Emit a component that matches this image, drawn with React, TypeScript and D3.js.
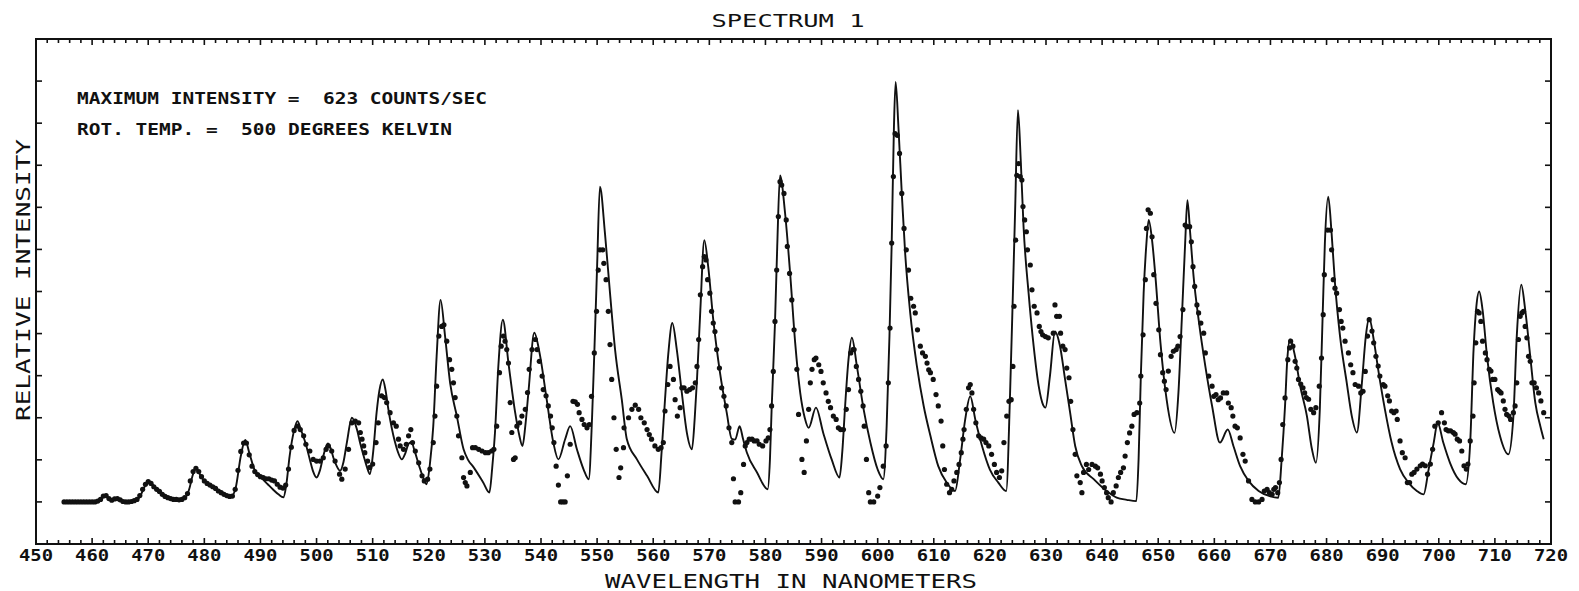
import React from "react";
import * as d3 from "d3";

const W = 1579;
const H = 591;

// axis domains
const xDomain: [number, number] = [450, 720];
const yDomain: [number, number] = [-1, 11];
const xTickLabels = [450, 460, 470, 480, 490, 500, 510, 520, 530, 540, 550, 560, 570, 580, 590, 600, 610, 620, 630, 640, 650, 660, 670, 680, 690, 700, 710, 720];
const yTickValues = [0, 1, 2, 3, 4, 5, 6, 7, 8, 9, 10];

const titleText = "SPECTRUM 1";
const xAxisTitle = "WAVELENGTH IN NANOMETERS";
const yAxisTitle = "RELATIVE INTENSITY";
const noteLines = ["MAXIMUM INTENSITY =  623 COUNTS/SEC", "ROT. TEMP. =  500 DEGREES KELVIN"];

// theoretical (computed) spectrum: [wavelength nm, relative intensity 0..10]
const theoryCurve: [number, number][] = [
  [455, 0], [461, 0], [462.3, 0.16], [463.4, 0.03], [464.6, 0.08], [465.7, 0], [467.2, 0], [468.5, 0.12], [469.3, 0.35], [470.2, 0.48],
  [471, 0.38], [472, 0.26], [473, 0.16], [473.8, 0.1], [475.5, 0.05], [476.5, 0.08], [477.3, 0.3], [477.9, 0.62], [478.5, 0.8], [479.1, 0.68],
  [479.7, 0.54], [480.5, 0.45], [481.5, 0.37], [482.5, 0.28], [483.3, 0.22], [484.8, 0.13], [485.6, 0.34], [486.5, 1.09], [487.3, 1.47], [488, 1.17],
  [488.9, 0.78], [490.4, 0.54], [491.3, 0.42], [492.2, 0.3], [493.2, 0.18], [494.1, 0.11], [494.6, 0.4], [495.2, 1.09], [496, 1.7], [496.6, 1.92],
  [497.2, 1.72], [498, 1.41], [498.8, 1.01], [499.4, 0.72], [500, 0.58], [500.6, 0.75], [501.2, 1.09], [502, 1.39], [502.5, 1.28], [503, 1.05],
  [503.6, 0.85], [504.2, 0.74], [504.8, 0.95], [505.4, 1.41], [506.3, 2.0], [507.2, 1.72], [507.8, 1.38], [508.4, 1.09], [509, 0.82], [509.5, 0.66],
  [510.1, 1.2], [510.7, 2.12], [511.2, 2.65], [511.8, 2.91], [512.3, 2.65], [512.8, 2.2], [514, 1.41], [514.6, 1.15], [515.2, 1.01], [515.8, 1.15],
  [516.4, 1.38], [516.9, 1.42], [517.5, 1.2], [518.3, 0.85], [519, 0.58], [519.6, 0.42], [520.2, 0.9], [520.8, 1.8], [521.4, 3.46], [522.1, 4.8],
  [522.9, 3.94], [523.8, 2.83], [525, 2.04], [526.2, 1.25], [527, 1.0], [528, 0.82], [529.7, 0.46], [530.8, 0.22], [531.3, 0.8], [531.8, 1.65],
  [532.4, 3.23], [533.2, 4.33], [534.2, 3.3], [535.4, 2.12], [536.1, 1.6], [536.7, 1.33], [537.2, 1.8], [537.8, 2.67], [538.8, 4.02], [539.8, 3.5],
  [541, 2.45], [542.2, 1.41], [543.1, 1.01], [544.3, 1.49], [545.2, 1.8], [546.4, 1.25], [547.6, 0.77], [548.5, 0.54], [549.1, 2.0], [549.5, 3.54],
  [550, 5.6], [550.5, 7.49], [551.4, 6.38], [552.3, 4.96], [553.2, 3.62], [554.4, 2.43], [555.3, 1.49], [557.1, 1.01], [558.9, 0.62], [560.9, 0.22],
  [561.5, 1.2], [562.1, 2.43], [562.7, 3.54], [563.4, 4.25], [564.2, 3.62], [565.1, 2.59], [566, 1.64], [566.9, 1.25], [567.4, 2.0], [567.8, 2.91],
  [568.4, 4.57], [569.1, 6.22], [569.8, 5.59], [570.7, 4.33], [571.9, 3.07], [573.1, 2.12], [574, 1.5], [574.6, 1.48], [575.4, 1.8], [576, 1.5],
  [576.7, 1.17], [578.5, 0.7], [580.4, 0.3], [580.8, 1.0], [581.1, 2.2], [581.7, 4.25], [582.1, 6.07], [582.6, 7.76], [583.5, 6.86], [584.4, 5.43],
  [585.3, 3.78], [586.2, 2.59], [587, 2.0], [587.7, 1.76], [589, 2.24], [590.3, 1.64], [591.8, 1.01], [593.2, 0.58], [593.7, 1.2], [594.2, 2.28],
  [594.8, 3.38], [595.4, 3.9], [596.3, 3.22], [597.5, 2.2], [598.7, 1.41], [600, 0.77], [601, 0.54], [601.6, 1.8], [602.1, 3.93], [602.5, 6.15],
  [602.9, 8.91], [603.2, 9.98], [603.7, 8.91], [604.3, 7.33], [604.9, 5.91], [605.8, 4.49], [607, 3.22], [608.2, 2.28], [609.4, 1.57], [610.8, 0.85],
  [612.3, 0.46], [613.8, 0.26], [614.7, 1.01], [615.6, 1.96], [616.5, 2.51], [617.4, 1.96], [618.6, 1.33], [620, 0.77], [621.5, 0.46], [622.9, 0.26],
  [623.6, 2.59], [624.1, 4.96], [624.5, 6.94], [625, 9.31], [625.5, 8.12], [626, 6.54], [626.9, 4.96], [627.8, 3.7], [628.7, 2.75], [629.5, 2.3],
  [629.9, 2.24], [630.7, 2.99], [631.6, 4.05], [632.5, 3.7], [633.4, 2.91], [634.3, 2.12], [635.2, 1.33], [636.4, 0.85], [638.5, 0.54], [640.8, 0.26],
  [642.6, 0.1], [644.4, 0.05], [646.1, 0.02], [646.5, 1.01], [646.9, 2.99], [647.4, 4.96], [647.9, 6.15], [648.3, 6.7], [648.9, 6.22], [649.5, 5.36],
  [650.4, 3.78], [651.5, 2.43], [652.9, 1.64], [653.6, 2.59], [654.2, 4.33], [654.8, 6.15], [655.2, 7.17], [655.7, 6.38], [656.3, 5.36], [657.2, 4.33],
  [658.4, 3.22], [659.6, 2.28], [661, 1.41], [662.4, 1.72], [663.4, 1.33], [664.6, 0.85], [666.1, 0.5], [667.9, 0.26], [670, 0.13], [671.4, 0.1],
  [672, 1.01], [672.6, 2.28], [673, 3.38], [673.5, 3.86], [674.4, 3.45], [675.3, 2.75], [676.5, 2.04], [677.4, 1.25], [678.1, 0.93], [678.8, 2.2],
  [679.3, 4.41], [679.7, 6.15], [680.3, 7.25], [680.9, 6.38], [681.5, 5.2], [682.4, 3.94], [683.6, 2.83], [684.5, 2.04], [685.4, 1.65], [686.3, 2.83],
  [687, 3.94], [687.6, 4.37], [688.4, 3.86], [689.2, 3.15], [690.4, 2.2], [691.6, 1.41], [693.1, 0.78], [694.6, 0.46], [696.1, 0.26], [697.3, 0.18],
  [698.2, 0.78], [699.1, 1.41], [699.8, 1.88], [700.8, 1.41], [702, 0.93], [703.5, 0.54], [704.8, 0.42], [705.6, 1.41], [706.2, 3.62], [706.7, 4.65],
  [707.2, 5.0], [707.8, 4.57], [708.6, 3.46], [709.7, 2.36], [710.9, 1.57], [712.4, 1.13], [713.3, 2.04], [713.9, 3.94], [714.7, 5.16], [715.4, 4.57],
  [716.3, 3.46], [717.2, 2.36], [718.1, 1.8], [718.7, 1.49],
];

// measured points, 455-496 nm (dense)
const measuredBlue: [number, number][] = [
  [455, 0], [455.5, 0], [456, 0], [456.5, 0], [457, 0], [457.5, 0], [458, 0], [458.5, 0], [459, 0], [459.5, 0], [460, 0], [460.5, 0],
  [461, 0.02], [461.5, 0.06], [462, 0.14], [462.5, 0.15], [463, 0.08], [463.5, 0.04], [464, 0.07], [464.5, 0.08], [465, 0.05], [465.5, 0.01],
  [466, 0], [466.5, 0], [467, 0.01], [467.5, 0.03], [468, 0.06], [468.5, 0.15], [469, 0.3], [469.5, 0.42], [470, 0.48], [470.5, 0.44],
  [471, 0.36], [471.5, 0.3], [472, 0.25], [472.5, 0.18], [473, 0.13], [473.5, 0.1], [474, 0.08], [474.5, 0.06], [475, 0.06], [475.5, 0.05],
  [476, 0.06], [476.5, 0.1], [477, 0.2], [477.5, 0.5], [478, 0.72], [478.5, 0.8], [479, 0.72], [479.5, 0.6], [480, 0.5], [480.5, 0.44],
  [481, 0.4], [481.5, 0.36], [482, 0.32], [482.5, 0.26], [483, 0.22], [483.5, 0.18], [484, 0.15], [484.5, 0.13], [485, 0.14], [485.5, 0.3],
  [486, 0.75], [486.5, 1.2], [487, 1.4], [487.5, 1.4], [488, 1.12], [488.5, 0.85], [489, 0.72], [489.5, 0.65], [490, 0.6], [490.5, 0.58],
  [491, 0.55], [491.5, 0.55], [492, 0.52], [492.5, 0.5], [493, 0.42], [493.5, 0.35], [494, 0.33], [494.5, 0.4], [495, 0.78], [495.5, 1.3],
  [496, 1.7],
];

// measured points, 496-541 nm
const measuredGreen: [number, number][] = [
  [496.6, 1.8], [497.1, 1.72], [497.7, 1.57], [498.1, 1.37], [498.8, 1.21], [499.4, 1.01], [500, 0.97], [500.6, 0.97], [501.2, 1.05], [501.7, 1.25],
  [502.1, 1.33], [502.7, 1.21], [503.3, 0.97], [504.1, 0.66], [504.5, 0.54], [505.1, 0.78], [505.7, 1.25], [506.3, 1.88], [506.9, 1.92], [507.5, 1.88],
  [507.8, 1.65], [508.1, 1.49], [508.4, 1.33], [508.6, 1.17], [509.1, 0.97], [509.5, 0.82], [510, 0.9], [510.6, 1.41], [511, 1.88], [511.6, 2.52],
  [512.1, 2.48], [512.5, 2.36], [513.1, 2.12], [513.7, 1.88], [514.2, 1.8], [514.6, 1.49], [514.9, 1.33], [515.5, 1.25], [516, 1.37], [516.4, 1.57],
  [516.8, 1.72], [517.1, 1.41], [517.6, 1.21], [518.2, 0.93], [518.8, 0.62], [519.2, 0.5], [519.8, 0.54], [520.2, 0.78], [520.8, 1.41], [521.1, 2.04],
  [521.4, 2.75], [521.8, 3.94], [522.3, 4.17], [522.7, 4.21], [523.2, 3.82], [523.7, 3.38], [524.1, 3.15], [524.4, 2.83], [524.7, 2.48], [525, 2.04],
  [525.3, 1.57], [525.9, 1.05], [526.2, 0.58], [526.5, 0.46], [526.8, 0.38], [527.4, 0.7], [527.8, 1.29], [528.3, 1.29], [528.9, 1.25], [529.5, 1.21],
  [530.1, 1.17], [530.6, 1.17], [531.2, 1.21], [531.6, 1.25], [532.1, 1.8], [532.6, 3.07], [532.9, 3.7], [533.3, 3.94], [533.6, 3.82], [533.9, 3.62],
  [534.2, 3.3], [534.5, 2.36], [534.8, 1.65], [535.1, 1.01], [535.4, 1.05], [535.7, 1.8], [536.2, 1.88], [536.6, 2.04], [537.2, 2.2], [537.6, 2.6],
  [537.9, 3.15], [538.4, 3.62], [539, 3.86], [539.3, 3.62], [539.7, 3.34], [540.2, 2.99], [540.4, 2.67], [540.9, 2.52], [541.3, 2.28],
];

// measured points, 541-586 nm
const measuredTeal: [number, number][] = [
  [541.7, 2.04], [542, 1.76], [542.3, 1.41], [542.7, 0.85], [543.1, 0.4], [543.5, 0], [543.9, 0], [544.3, 0], [544.7, 0.62], [545.2, 1.37],
  [545.7, 2.39], [546.1, 2.38], [546.5, 2.32], [546.8, 2.12], [547.3, 1.96], [547.7, 1.84], [548.2, 1.76], [548.6, 1.84], [549, 2.51], [549.5, 3.54],
  [549.9, 4.53], [550.2, 5.51], [550.5, 5.99], [551, 5.99], [551.2, 5.67], [551.6, 5.28], [552, 4.53], [552.3, 3.74], [552.6, 2.91], [553, 2.0],
  [553.4, 1.25], [553.9, 0.58], [554.2, 0.81], [554.7, 1.29], [554.8, 1.76], [555.6, 2.0], [556.2, 2.2], [556.8, 2.3], [557.4, 2.2], [557.8, 2.0],
  [558.4, 1.88], [558.9, 1.72], [559.3, 1.6], [559.7, 1.49], [560.3, 1.33], [560.9, 1.25], [561.4, 1.29], [561.8, 1.41], [562.1, 2.16], [562.6, 2.79],
  [563, 3.22], [563.6, 2.91], [563.9, 2.43], [564.3, 2.04], [564.8, 2.24], [565.1, 2.71], [565.5, 2.71], [566, 2.63], [566.5, 2.67], [567, 2.71],
  [567.5, 2.83], [567.8, 3.22], [568.1, 3.86], [568.4, 4.92], [568.8, 5.59], [569.1, 5.83], [569.4, 5.75], [569.7, 5.28], [570.1, 4.96], [570.4, 4.53],
  [570.7, 4.25], [571, 4.05], [571.3, 3.62], [571.8, 3.18], [572.2, 2.71], [572.6, 2.51], [573, 2.28], [573.5, 1.76], [574, 1.41], [574.3, 0.55],
  [574.6, 0], [575.2, 0], [575.6, 0.22], [576.1, 0.89], [576.4, 1.33], [576.7, 1.41], [577.1, 1.49], [577.6, 1.49], [578, 1.45], [578.5, 1.45],
  [578.9, 1.37], [579.5, 1.33], [580.1, 1.45], [580.5, 1.52], [580.8, 1.72], [581.1, 2.28], [581.4, 3.1], [581.7, 4.29], [582, 5.51], [582.3, 6.78],
  [582.6, 7.61], [582.9, 7.53], [583.3, 7.33], [583.7, 6.7], [583.9, 6.07], [584.3, 5.43],
];

// measured points, 585-630 nm
const measuredPurple: [number, number][] = [
  [584.7, 4.8], [585.1, 4.09], [585.6, 3.15], [585.9, 2.08], [586.5, 1.01], [586.9, 0.7], [587.3, 1.45], [587.7, 2.2], [588, 2.83], [588.3, 3.15],
  [588.7, 3.38], [589, 3.42], [589.5, 3.26], [589.9, 3.1], [590.3, 2.83], [590.8, 2.59], [591.2, 2.39], [591.6, 2.24], [592.1, 2.04], [592.6, 1.96],
  [593, 1.76], [593.4, 1.72], [593.9, 1.72], [594.4, 2.2], [594.8, 2.67], [595.2, 3.54], [595.6, 3.62], [595.8, 3.62], [596.2, 3.22], [596.6, 2.91],
  [597, 2.63], [597.4, 2.28], [597.6, 1.8], [598, 1.01], [598.4, 0.22], [598.7, 0], [599.3, 0], [600, 0.14], [600.4, 0.34], [601, 0.85],
  [601.5, 1.33], [601.9, 2.83], [602.2, 4.13], [602.5, 6.15], [602.8, 7.73], [603.1, 8.75], [603.5, 8.71], [603.9, 8.28], [604.3, 7.33], [604.7, 6.5],
  [605.1, 5.99], [605.5, 5.51], [605.9, 4.84], [606.4, 4.65], [606.7, 4.49], [607.1, 4.09], [607.6, 3.7], [608, 3.54], [608.5, 3.46], [608.8, 3.3],
  [609.1, 3.14], [609.4, 3.07], [609.9, 2.91], [610.4, 2.55], [610.8, 2.28], [611.3, 1.92], [611.6, 1.33], [611.9, 0.77], [612.3, 0.42], [612.8, 0.22],
  [613.2, 0.3], [613.6, 0.5], [614.1, 0.7], [614.5, 0.89], [614.9, 1.17], [615.2, 1.49], [615.4, 1.72], [615.8, 2.2], [616.2, 2.71], [616.5, 2.79],
  [616.8, 2.59], [617.1, 2.2], [617.5, 1.88], [618, 1.57], [618.4, 1.52], [618.9, 1.49], [619.3, 1.41], [619.8, 1.33], [620.3, 1.13], [620.8, 0.89],
  [621.2, 0.7], [621.7, 0.58], [622.1, 0.74], [622.5, 1.41], [623, 2.04], [623.4, 2.39], [623.8, 2.43], [624.1, 3.22], [624.3, 4.65], [624.6, 6.22],
  [624.8, 7.76], [625.1, 8.04], [625.4, 7.73], [625.7, 7.65], [625.9, 7.02], [626.2, 6.7], [626.5, 6.42], [626.7, 5.99], [627.2, 5.63], [627.5, 5.04],
  [627.9, 4.65], [628.4, 4.49], [628.8, 4.17], [629.1, 4.05], [629.4, 3.97], [629.9, 3.93], [630.4, 3.9],
];

// measured points, 631-675 nm
const measuredOrange: [number, number][] = [
  [631.3, 4.01], [631.6, 4.68], [631.9, 4.41], [632.4, 4.41], [632.6, 4.01], [633, 3.7], [633.4, 3.62], [633.7, 3.18], [634.1, 2.95], [634.4, 2.39],
  [634.8, 1.72], [635.2, 1.13], [635.5, 0.62], [636.1, 0.46], [636.4, 0.22], [636.7, 0.7], [637.2, 0.89], [637.6, 0.77], [638.2, 0.89], [638.8, 0.85],
  [639.2, 0.81], [639.7, 0.66], [640, 0.5], [640.4, 0.34], [640.8, 0.22], [641.1, 0.1], [641.6, 0], [642, 0.22], [642.5, 0.38], [642.9, 0.58],
  [643.3, 0.7], [643.8, 0.81], [644.1, 1.09], [644.5, 1.41], [644.9, 1.64], [645.3, 1.8], [645.7, 2.08], [646.2, 2.12], [646.7, 2.35], [646.9, 2.99],
  [647.3, 3.97], [647.7, 5.28], [647.9, 6.5], [648.2, 6.94], [648.6, 6.86], [648.9, 6.3], [649.2, 5.4], [649.6, 4.72], [650.1, 4.09], [650.4, 3.5],
  [650.8, 3.07], [651.1, 2.87], [651.4, 2.67], [651.8, 3.11], [652.3, 3.46], [652.7, 3.58], [653.2, 3.62], [653.5, 3.7], [653.9, 3.93], [654.4, 4.57],
  [654.8, 6.58], [655.1, 6.54], [655.6, 6.54], [655.9, 6.18], [656.2, 5.59], [656.5, 5.12], [656.9, 4.68], [657.2, 4.49], [657.6, 4.25], [658.1, 4.01],
  [658.4, 3.54], [659, 2.99], [659.6, 2.75], [659.9, 2.51], [660.3, 2.55], [660.7, 2.43], [661.1, 2.47], [661.6, 2.59], [662.2, 2.59], [662.5, 2.35],
  [663, 2.24], [663.3, 2.04], [663.7, 1.8], [664.1, 1.76], [664.6, 1.52], [665.1, 1.13], [665.5, 0.97], [666.1, 0.5], [666.7, 0.06], [667.3, 0],
  [667.9, 0], [668.5, 0.06], [668.9, 0.26], [669.4, 0.3], [669.8, 0.22], [670.3, 0.18], [670.6, 0.3], [670.9, 0.34], [671.3, 0.22], [671.6, 0.46],
  [671.9, 1.01], [672.2, 1.84], [672.6, 2.47], [673.1, 3.38], [673.4, 3.66], [673.6, 3.82], [674, 3.7], [674.4, 3.34], [674.7, 3.18], [675, 2.91],
];

// measured points, 675-719 nm
const measuredRed: [number, number][] = [
  [675.4, 2.8], [675.8, 2.71], [676.1, 2.59], [676.4, 2.48], [676.8, 2.44], [677.2, 2.2], [677.7, 2.12], [678.1, 2.24], [678.7, 2.75], [679.1, 3.42],
  [679.4, 4.45], [679.6, 5.4], [680.2, 6.46], [680.7, 6.46], [680.9, 5.99], [681.2, 5.28], [681.5, 5.08], [681.8, 4.96], [682.3, 4.57], [682.6, 4.29],
  [682.9, 4.13], [683.3, 3.82], [683.9, 3.54], [684.3, 3.26], [684.7, 3.07], [685.1, 2.79], [685.7, 2.75], [686.1, 2.59], [686.5, 2.63], [686.9, 3.1],
  [687.3, 3.94], [687.6, 4.33], [688.1, 4.06], [688.4, 3.78], [688.8, 3.46], [689.2, 3.23], [689.5, 2.99], [690.1, 2.79], [690.4, 2.75], [690.9, 2.52],
  [691.2, 2.4], [691.6, 2.16], [692, 2.12], [692.4, 2.16], [692.6, 1.96], [693.1, 1.45], [693.5, 1.17], [694, 1.05], [694.4, 0.46], [694.8, 0.46],
  [695.2, 0.66], [695.6, 0.7], [696.1, 0.78], [696.7, 0.86], [697.1, 0.9], [697.6, 0.86], [698, 0.66], [698.5, 0.9], [698.9, 1.25], [699.3, 1.8],
  [699.9, 1.88], [700.5, 2.12], [701, 1.88], [701.3, 1.72], [701.7, 1.69], [702.1, 1.69], [702.6, 1.65], [702.9, 1.61], [703.3, 1.49], [703.7, 1.45],
  [704.1, 1.21], [704.5, 0.86], [704.9, 0.78], [705.2, 0.9], [705.6, 1.45], [706.1, 2.04], [706.3, 2.83], [706.6, 3.78], [706.9, 4.53], [707.2, 4.49],
  [707.5, 4.29], [707.8, 3.82], [708.3, 3.54], [708.6, 3.38], [709, 3.15], [709.3, 3.11], [709.6, 2.91], [710, 2.91], [710.5, 2.67], [710.8, 2.63],
  [711.1, 2.59], [711.5, 2.4], [711.8, 2.2], [712.1, 2.08], [712.5, 2.04], [712.8, 1.96], [713.3, 2.12], [713.6, 2.28], [713.9, 2.83], [714.2, 3.86],
  [714.5, 4.41], [714.8, 4.49], [715.1, 4.53], [715.4, 4.17], [715.7, 3.9], [716, 3.46], [716.3, 3.34], [716.6, 2.83], [717, 2.83], [717.4, 2.71],
  [717.8, 2.59], [718.2, 2.4], [718.7, 2.12],
];

const measuredAll = [
  ...measuredBlue, ...measuredGreen, ...measuredTeal,
  ...measuredPurple, ...measuredOrange, ...measuredRed,
];

const FONT = "'DejaVu Sans Mono', 'Liberation Mono', monospace";

export default function App() {
  const left = 36, right = 1551, top = 39, bottom = 544;
  const x = d3.scaleLinear().domain(xDomain).range([left, right]);
  const y = d3.scaleLinear().domain(yDomain).range([bottom, top]);

  const linePath = d3
    .line<[number, number]>()
    .x((d) => x(d[0]))
    .y((d) => y(d[1]))
    .curve(d3.curveMonotoneX)(theoryCurve) || "";

  const minorTicks = d3.range(xDomain[0], xDomain[1] + 0.001, 2);

  return (
    <svg
      width={W}
      height={H}
      viewBox={`0 0 ${W} ${H}`}
      style={{ position: "absolute", left: 0, top: 0, background: "#fff" }}
    >
      <rect x={0} y={0} width={W} height={H} fill="#fff" />
      {/* title */}
      <text x={788} y={27} fontFamily={FONT} fontSize={17} textAnchor="middle" textLength={153} lengthAdjust="spacingAndGlyphs" fill="#111">
        {titleText}
      </text>

      {/* frame */}
      <rect x={left} y={top} width={right - left} height={bottom - top} fill="none" stroke="#111" strokeWidth={2} />

      {/* x ticks top & bottom */}
      {minorTicks.map((t) => {
        const major = Math.abs(t % 10) < 0.001;
        const len = major ? 6 : 4;
        return (
          <g key={"xt" + t}>
            <line x1={x(t)} x2={x(t)} y1={bottom} y2={bottom - len} stroke="#111" strokeWidth={1.6} />
            <line x1={x(t)} x2={x(t)} y1={top} y2={top + len} stroke="#111" strokeWidth={1.6} />
          </g>
        );
      })}
      {/* y ticks left & right */}
      {yTickValues.map((t) => (
        <g key={"yt" + t}>
          <line x1={left} x2={left + 6} y1={y(t)} y2={y(t)} stroke="#111" strokeWidth={1.6} />
          <line x1={right} x2={right - 6} y1={y(t)} y2={y(t)} stroke="#111" strokeWidth={1.6} />
        </g>
      ))}

      {/* x tick labels */}
      {xTickLabels.map((t) => (
        <text key={"xl" + t} x={x(t)} y={561} fontFamily={FONT} fontSize={15} fontWeight="bold" textAnchor="middle" textLength={34} lengthAdjust="spacingAndGlyphs" fill="#111">
          {String(t)}
        </text>
      ))}

      {/* axis titles */}
      <text x={791} y={588} fontFamily={FONT} fontSize={19} textAnchor="middle" textLength={372} lengthAdjust="spacingAndGlyphs" fill="#111">
        {xAxisTitle}
      </text>
      <text
        transform={`translate(30, 280) rotate(-90)`}
        fontFamily={FONT}
        fontSize={19}
        textAnchor="middle"
        textLength={282}
        lengthAdjust="spacingAndGlyphs"
        fill="#111"
      >
        {yAxisTitle}
      </text>

      {/* annotations */}
      <text x={77} y={104} fontFamily={FONT} fontSize={15} fontWeight="bold" textLength={410} lengthAdjust="spacingAndGlyphs" fill="#111" style={{ whiteSpace: "pre" }}>
        {noteLines[0]}
      </text>
      <text x={77} y={135} fontFamily={FONT} fontSize={15} fontWeight="bold" textLength={375} lengthAdjust="spacingAndGlyphs" fill="#111" style={{ whiteSpace: "pre" }}>
        {noteLines[1]}
      </text>

      {/* theoretical line */}
      <path d={linePath} fill="none" stroke="#111" strokeWidth={1.9} strokeLinejoin="round" />

      {/* measured dots */}
      {measuredAll.map((d, i) => (
        <circle key={"m" + i} cx={x(d[0])} cy={y(d[1])} r={2.6} fill="#111" />
      ))}
    </svg>
  );
}
